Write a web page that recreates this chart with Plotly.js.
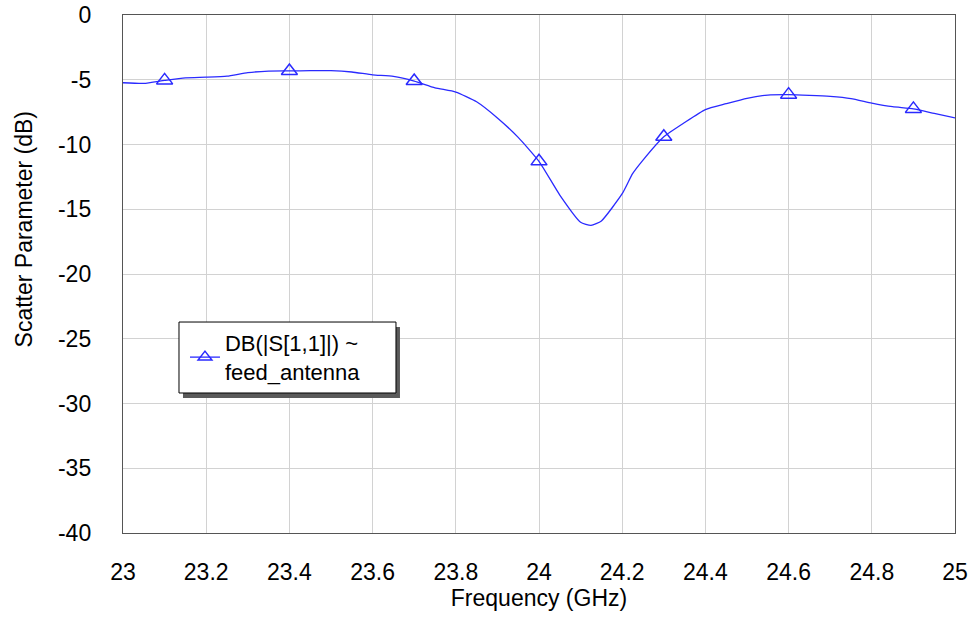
<!DOCTYPE html>
<html>
<head>
<meta charset="utf-8">
<script src="https://cdn.plot.ly/plotly-3.0.1.min.js"></script>
<style>html,body{margin:0;padding:0;background:#fff;}#chart{width:973px;height:623px;}</style>
</head>
<body>
<div id="chart"></div>
<script>
// Frequency (GHz) and DB(|S[1,1]|) of feed_antenna
const freqGHz = [23.00, 23.05, 23.10, 23.15, 23.20, 23.25, 23.30, 23.35, 23.40, 23.45,
                 23.50, 23.55, 23.60, 23.65, 23.70, 23.75, 23.80, 23.85, 23.90, 23.95,
                 24.00, 24.05, 24.10, 24.125, 24.15, 24.20, 24.225, 24.25, 24.30, 24.35,
                 24.40, 24.45, 24.50, 24.55, 24.60, 24.65, 24.70, 24.75, 24.80, 24.85,
                 24.90, 24.95, 25.00];
const s11dB   = [-5.23, -5.28, -5.05, -4.85, -4.80, -4.72, -4.45, -4.33, -4.32, -4.30,
                 -4.30, -4.40, -4.62, -4.74, -5.10, -5.62, -5.95, -6.70, -7.95, -9.45,
                 -11.30, -13.90, -16.00, -16.25, -15.90, -13.80, -12.25, -11.20, -9.40, -8.30,
                 -7.30, -6.85, -6.43, -6.18, -6.15, -6.20, -6.28, -6.45, -6.80, -7.08,
                 -7.25, -7.60, -7.95];
// marker points
const markerFreq = [23.1, 23.4, 23.7, 24.0, 24.3, 24.6, 24.9];
const markerdB   = [-5.05, -4.32, -5.10, -11.30, -9.40, -6.15, -7.25];

// axis ticks
const xTickVals = [23, 23.2, 23.4, 23.6, 23.8, 24, 24.2, 24.4, 24.6, 24.8, 25];
const xTickText = ['23', '23.2', '23.4', '23.6', '23.8', '24', '24.2', '24.4', '24.6', '24.8', '25'];
const yTickVals = [0, -5, -10, -15, -20, -25, -30, -35, -40];
const yTickText = ['0', '-5', '-10', '-15', '-20', '-25', '-30', '-35', '-40'];

const seriesName = 'DB(|S[1,1]|) ~<br>feed_antenna';
const xTitle = 'Frequency (GHz)';
const yTitle = 'Scatter Parameter (dB)';

const BLUE = '#2a2aff';
const FONT = 'Liberation Sans, Arial, sans-serif';

const traces = [
  {x: freqGHz, y: s11dB, mode: 'lines', type: 'scatter', showlegend: false,
   line: {color: BLUE, width: 1.3, shape: 'spline', smoothing: 0.5}, hoverinfo: 'skip'},
  {x: markerFreq, y: markerdB, mode: 'markers', type: 'scatter', showlegend: false,
   marker: {symbol: 'triangle-up-open', size: 14, color: BLUE, line: {color: BLUE, width: 1.5}}},
  {x: [null], y: [null], mode: 'lines+markers', type: 'scatter', name: seriesName, showlegend: true,
   line: {color: BLUE, width: 1.3},
   marker: {symbol: 'triangle-up-open', size: 12, color: BLUE, line: {color: BLUE, width: 1.5}}}
];

const layout = {
  width: 973, height: 623,
  margin: {l: 123, r: 18, t: 15, b: 90, pad: 0},
  paper_bgcolor: '#ffffff', plot_bgcolor: '#ffffff',
  font: {family: FONT, size: 23, color: '#000'},
  xaxis: {
    range: [23, 25], tickmode: 'array', tickvals: xTickVals, ticktext: xTickText,
    showgrid: true, gridcolor: '#d2d2d2', gridwidth: 1,
    showline: true, mirror: true, linecolor: '#555', linewidth: 1.2,
    zeroline: false, ticks: '', ticklabelstandoff: 18,
    tickfont: {family: FONT, size: 23, color: '#000'},
    title: {text: xTitle, font: {family: FONT, size: 23, color: '#000'}, standoff: 6}
  },
  yaxis: {
    range: [-40, 0], tickmode: 'array', tickvals: yTickVals, ticktext: yTickText,
    showgrid: true, gridcolor: '#d2d2d2', gridwidth: 1,
    showline: true, mirror: true, linecolor: '#555', linewidth: 1.2,
    zeroline: false, ticks: '', ticklabelstandoff: 26,
    tickfont: {family: FONT, size: 23, color: '#000'}
  },
  showlegend: true,
  legend: {
    x: 0.0745, y: 0.4073, xanchor: 'left', yanchor: 'top',
    bgcolor: 'rgba(0,0,0,0)', borderwidth: 0,
    font: {family: FONT, size: 22, color: '#000'}
  },
  shapes: [
    {type: 'rect', xref: 'paper', yref: 'paper', x0: 0.0721, x1: 0.3329, y0: 0.2606, y1: 0.3977,
     fillcolor: '#5a5a5a', line: {width: 0}, layer: 'above'},
    {type: 'rect', xref: 'paper', yref: 'paper', x0: 0.0673, x1: 0.3281, y0: 0.2703, y1: 0.4073,
     fillcolor: '#ffffff', line: {color: '#000', width: 1}, layer: 'above'}
  ],
  annotations: [
    {text: yTitle, xref: 'paper', yref: 'paper', x: -0.1190, y: 0.586,
     xanchor: 'center', yanchor: 'middle', textangle: -90, showarrow: false,
     font: {family: FONT, size: 23, color: '#000'}}
  ]
};

Plotly.newPlot('chart', traces, layout, {staticPlot: true, displayModeBar: false});
</script>
</body>
</html>
